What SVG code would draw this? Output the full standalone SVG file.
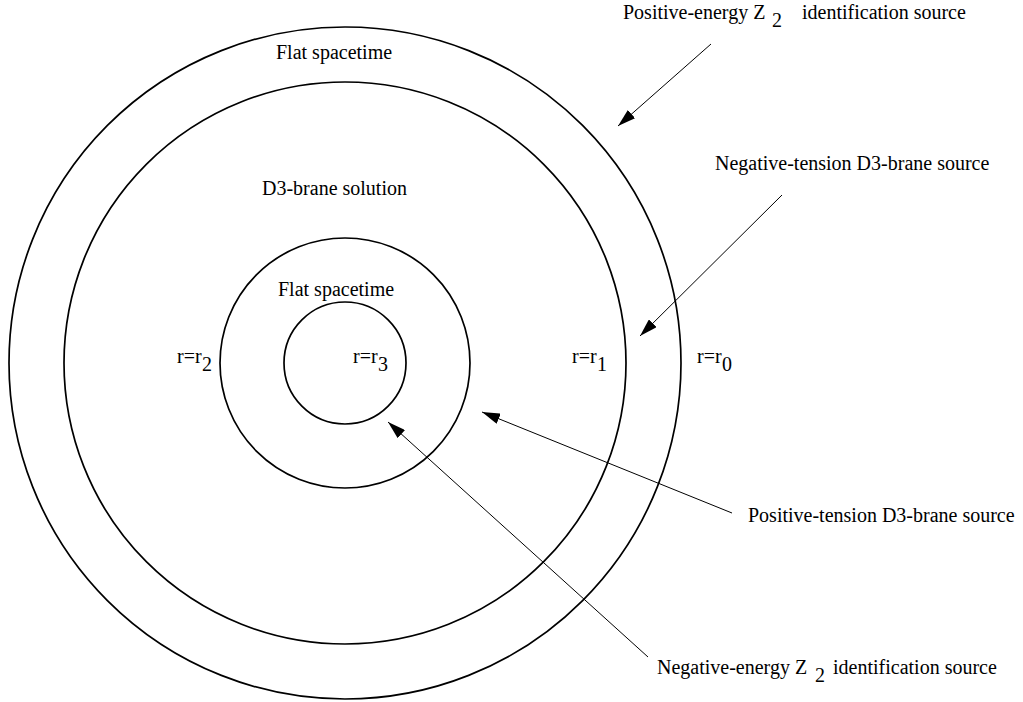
<svg xmlns="http://www.w3.org/2000/svg" width="1023" height="702" viewBox="0 0 1023 702">
<defs>
<marker id="ah" viewBox="0 0 18 11" refX="18" refY="5.5" markerWidth="18" markerHeight="11" markerUnits="userSpaceOnUse" orient="auto">
<path d="M0,0 L18,5.5 L0,11 z" fill="#000"/>
</marker>
</defs>
<style>
.ring{fill:none;stroke:#000;stroke-width:1.7}
.conn{fill:none;stroke:#000;stroke-width:1;marker-end:url(#ah)}
text{font-family:"Liberation Serif","Times New Roman",serif;font-size:20px;fill:#000}
</style>
<rect width="1023" height="702" fill="#fff"/>
<g id="ring-r0"><circle class="ring" cx="345" cy="363" r="336"/></g>
<g id="ring-r1"><circle class="ring" cx="345" cy="363" r="281"/></g>
<g id="ring-r2"><circle class="ring" cx="345" cy="363" r="125"/></g>
<g id="ring-r3"><circle class="ring" cx="345" cy="363" r="61"/></g>
<g id="region-labels">
<text x="276" y="59">Flat spacetime</text>
<text x="262" y="195">D3-brane solution</text>
<text x="278" y="296">Flat spacetime</text>
</g>
<g id="radius-labels">
<text x="177" y="363">r=r<tspan x="202" y="371">2</tspan></text>
<text x="353" y="363">r=r<tspan x="378" y="371">3</tspan></text>
<text x="572" y="363">r=r<tspan x="597" y="371">1</tspan></text>
<text x="697" y="363">r=r<tspan x="722" y="371">0</tspan></text>
</g>
<g id="source-pos-energy"><text x="623" y="19">Positive-energy Z<tspan x="772" y="27">2</tspan><tspan x="802" y="19">identification source</tspan></text></g>
<g id="source-neg-tension"><text x="715" y="170">Negative-tension D3-brane source</text></g>
<g id="source-pos-tension"><text x="748" y="522">Positive-tension D3-brane source</text></g>
<g id="source-neg-energy"><text x="657" y="674">Negative-energy Z<tspan x="815" y="682">2</tspan><tspan x="833" y="674">identification source</tspan></text></g>
<g id="connectors">
<line class="conn" x1="711" y1="44" x2="618" y2="126"/>
<line class="conn" x1="782" y1="195" x2="640" y2="336"/>
<line class="conn" x1="732" y1="513" x2="482" y2="412"/>
<line class="conn" x1="648" y1="657" x2="388" y2="422"/>
</g>
</svg>
